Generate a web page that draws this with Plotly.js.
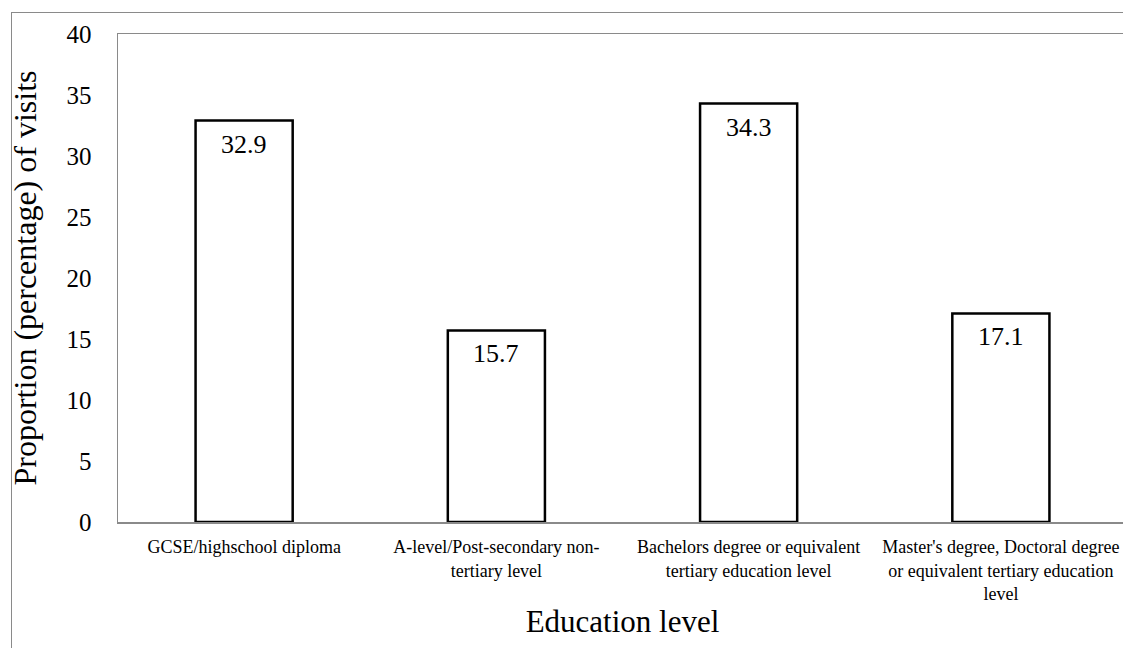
<!DOCTYPE html>
<html>
<head>
<meta charset="utf-8">
<script src="https://cdn.plot.ly/plotly-3.0.1.min.js"></script>
<style>
html,body{margin:0;padding:0;overflow:hidden;background:#fff;width:1123px;height:648px;}
#frame{position:absolute;left:11px;top:12px;width:1200px;height:800px;border:1.5px solid #8a8a8a;box-sizing:border-box;}
#chart{position:absolute;left:0;top:0;}
</style>
</head>
<body>
<div id="frame"></div>
<div id="chart"></div>
<script>
const categories = [
  "GCSE/highschool diploma",
  "A-level/Post-secondary non-<br>tertiary level",
  "Bachelors degree or equivalent<br>tertiary education level",
  "Master's degree, Doctoral degree<br>or equivalent tertiary education<br>level"
];
const proportions = [32.9, 15.7, 34.3, 17.1];
const yTicks = [0, 5, 10, 15, 20, 25, 30, 35, 40];

const FONT = "'Liberation Serif', 'Times New Roman', serif";

const trace = {
  type: "bar",
  x: categories,
  y: proportions,
  marker: {color: "#ffffff", line: {color: "#000000", width: 2.5}},
  hoverinfo: "none"
};

const labels = categories.map((c, i) => ({
  x: c,
  y: proportions[i],
  xref: "x",
  yref: "y",
  text: proportions[i].toFixed(1),
  showarrow: false,
  yanchor: "top",
  xanchor: "center",
  yshift: -7,
  font: {family: FONT, size: 26, color: "#000"}
}));

const layout = {
  width: 1131,
  height: 648,
  margin: {l: 118, r: 4, t: 34, b: 126},
  paper_bgcolor: "rgba(0,0,0,0)",
  plot_bgcolor: "rgba(0,0,0,0)",
  font: {family: FONT, color: "#000"},
  showlegend: false,
  bargap: 0.615,
  annotations: labels,
  xaxis: {
    type: "category",
    showline: true, linecolor: "#8a8a8a", linewidth: 1.5, mirror: true,
    showgrid: false, zeroline: false,
    ticks: "", tickfont: {family: FONT, size: 18, color: "#000"},
    ticklabelstandoff: 8,
    title: {text: "Education level", font: {family: FONT, size: 31, color: "#000"}, standoff: 7}
  },
  yaxis: {
    range: [0, 40],
    tickvals: yTicks,
    ticktext: yTicks.map(String),
    showline: true, linecolor: "#8a8a8a", linewidth: 1.5, mirror: true,
    showgrid: false, zeroline: false,
    ticks: "", tickfont: {family: FONT, size: 25, color: "#000"},
    ticklabelstandoff: 20,
    title: {text: "Proportion (percentage) of visits", font: {family: FONT, size: 32, color: "#000"}, standoff: 20}
  }
};

Plotly.newPlot("chart", [trace], layout, {staticPlot: true, displayModeBar: false});
</script>
</body>
</html>
